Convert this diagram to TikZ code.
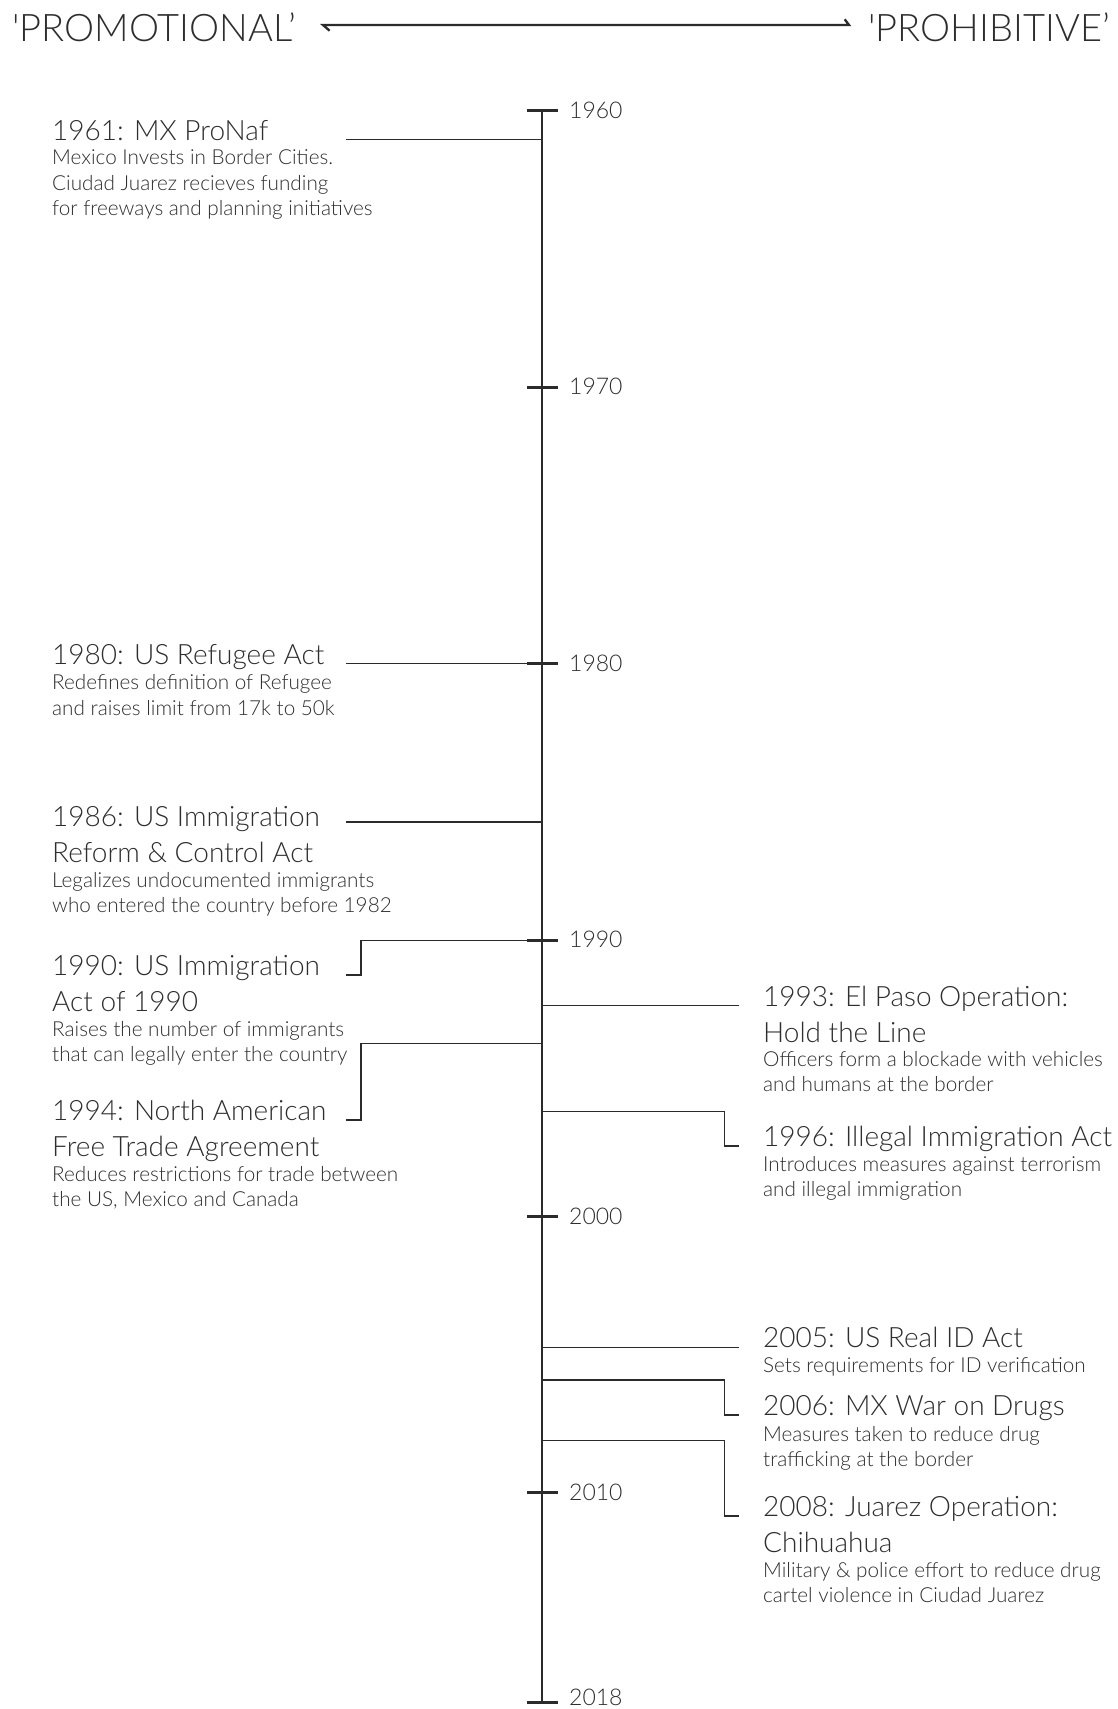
\documentclass[tikz,border=0pt]{standalone}
\usepackage{fontspec}
\setmainfont{Lato}[UprightFont=* Light, Ligatures=TeXOff]
\definecolor{ink}{HTML}{2E2E2E}
\definecolor{lineink}{HTML}{2B2B2B}
\tikzset{
  ttl/.style={anchor=base west, inner sep=0pt, text=ink, font=\fontsize{28}{34}\selectfont},
  dsc/.style={anchor=base west, inner sep=0pt, text=ink, font=\fontsize{20.7}{25}\selectfont},
  yr/.style={anchor=base west, inner sep=0pt, text=ink, font=\fontsize{23}{28}\selectfont},
  hdr/.style={inner sep=0pt, text=ink, font=\fontsize{38}{42}\selectfont},
  axisline/.style={draw=lineink, line width=2.7pt},
  tickline/.style={draw=lineink, line width=3pt},
  conn/.style={draw=lineink, line width=1.4pt},
  boldconn/.style={draw=lineink, line width=2.4pt},
  hdrarrow/.style={draw=lineink, line width=2.3pt, line join=miter},
}
\begin{document}
\begin{tikzpicture}[x=1pt, y=-1pt]
\useasboundingbox[fill=white] (0,0) rectangle (1118,1709);

% header
\node[hdr, anchor=base west] (promo) at (12,41) {'PROMOTIONAL’};
\node[hdr, anchor=base east] (prohib) at (1110,41) {'PROHIBITIVE’};
\coordinate (arrL) at (323,25);
\coordinate (arrR) at (849,25);
\draw[hdrarrow] ([shift={(6.6,5.7)}]arrL) -- (arrL) -- (arrR) -- ([shift={(-4.3,-5.7)}]arrR);

% axis and ticks
\coordinate (top) at (542,110.7);
\coordinate (bot) at (542,1702.3);
\draw[axisline] (top) -- (bot);
\foreach \yy/\lab/\nm/\bl in {110.7/1960/y60/118.2, 387.2/1970/y70/394.7, 663.7/1980/y80/671.2, 940.3/1990/y90/947.8, 1216.7/2000/y00/1224.2, 1492.7/2010/y10/1500.2, 1702.3/2018/y18/1705.5}{
  \draw[tickline] (527,\yy) -- (558,\yy);
  \node[yr] (\nm) at (569,\bl) {\lab};
}

% ---- left events ----
\node[ttl] (t61a) at (52,140) {1961: MX ProNaf};
\node[dsc] (d61a) at (52,164.5) {Mexico Invests in Border Cities.};
\node[dsc] (d61b) at (52,190) {Ciudad Juarez recieves funding};
\node[dsc] (d61c) at (52,215.5) {for freeways and planning initiatives};
\coordinate (a61) at (542,139.5);
\coordinate (c61) at (346,139.5);
\draw[conn] (a61) -- (c61);

\node[ttl] (t80a) at (52,664) {1980: US Refugee Act};
\node[dsc] (d80a) at (52,689.5) {Redefines definition of Refugee};
\node[dsc] (d80b) at (52,715) {and raises limit from 17k to 50k};
\coordinate (a80) at (542,663.7);
\coordinate (c80) at (346,663.7);
\draw[conn] (a80) -- (c80);

\node[ttl] (t86a) at (52,826) {1986: US Immigration};
\node[ttl] (t86b) at (52,862) {Reform \& Control Act};
\node[dsc] (d86a) at (52,887) {Legalizes undocumented immigrants};
\node[dsc] (d86b) at (52,912) {who entered the country before 1982};
\coordinate (a86) at (542,822);
\coordinate (c86) at (346,822);
\draw[conn] (a86) -- (c86);

\node[ttl] (t90a) at (52,975) {1990: US Immigration};
\node[ttl] (t90b) at (52,1011) {Act of 1990};
\node[dsc] (d90a) at (52,1036) {Raises the number of immigrants};
\node[dsc] (d90b) at (52,1061.5) {that can legally enter the country};
\coordinate (a90) at (542,940.3);
\coordinate (k90) at (361,940.3);
\coordinate (c90) at (346,975);
\draw[conn] (a90) -- (k90);
\draw[boldconn] (k90) |- (c90);

\node[ttl] (t94a) at (52,1120) {1994: North American};
\node[ttl] (t94b) at (52,1156) {Free Trade Agreement};
\node[dsc] (d94a) at (52,1181) {Reduces restrictions for trade between};
\node[dsc] (d94b) at (52,1206) {the US, Mexico and Canada};
\coordinate (a94) at (542,1043.7);
\coordinate (c94) at (346,1120);
\draw[conn] (a94) -| (361,1120) -- (c94);

% ---- right events ----
\node[ttl] (t93a) at (763,1006) {1993: El Paso Operation:};
\node[ttl] (t93b) at (763,1042) {Hold the Line};
\node[dsc] (d93a) at (763,1066.5) {Officers form a blockade with vehicles};
\node[dsc] (d93b) at (763,1091.5) {and humans at the border};
\coordinate (a93) at (542,1005.5);
\coordinate (c93) at (738.5,1005.5);
\draw[conn] (a93) -- (c93);

\node[ttl] (t96a) at (763,1146) {1996: Illegal Immigration Act};
\node[dsc] (d96a) at (763,1171) {Introduces measures against terrorism};
\node[dsc] (d96b) at (763,1196.5) {and illegal immigration};
\coordinate (a96) at (542,1111.7);
\coordinate (c96) at (738.5,1146);
\draw[conn] (a96) -| (724.7,1146) -- (c96);

\node[ttl] (t05a) at (763,1347) {2005: US Real ID Act};
\node[dsc] (d05a) at (763,1372) {Sets requirements for ID verification};
\coordinate (a05) at (542,1347.3);
\coordinate (c05) at (738.5,1347.3);
\draw[conn] (a05) -- (c05);

\node[ttl] (t06a) at (763,1415) {2006: MX War on Drugs};
\node[dsc] (d06a) at (763,1441) {Measures taken to reduce drug};
\node[dsc] (d06b) at (763,1466) {trafficking at the border};
\coordinate (a06) at (542,1380);
\coordinate (c06) at (738.5,1415);
\draw[conn] (a06) -| (724.7,1415) -- (c06);

\node[ttl] (t08a) at (763,1516) {2008: Juarez Operation:};
\node[ttl] (t08b) at (763,1552) {Chihuahua};
\node[dsc] (d08a) at (763,1577) {Military \& police effort to reduce drug};
\node[dsc] (d08b) at (763,1602.5) {cartel violence in Ciudad Juarez};
\coordinate (a08) at (542,1440.7);
\coordinate (c08) at (738.5,1516);
\draw[conn] (a08) -| (724.7,1516) -- (c08);
\end{tikzpicture}
\end{document}
